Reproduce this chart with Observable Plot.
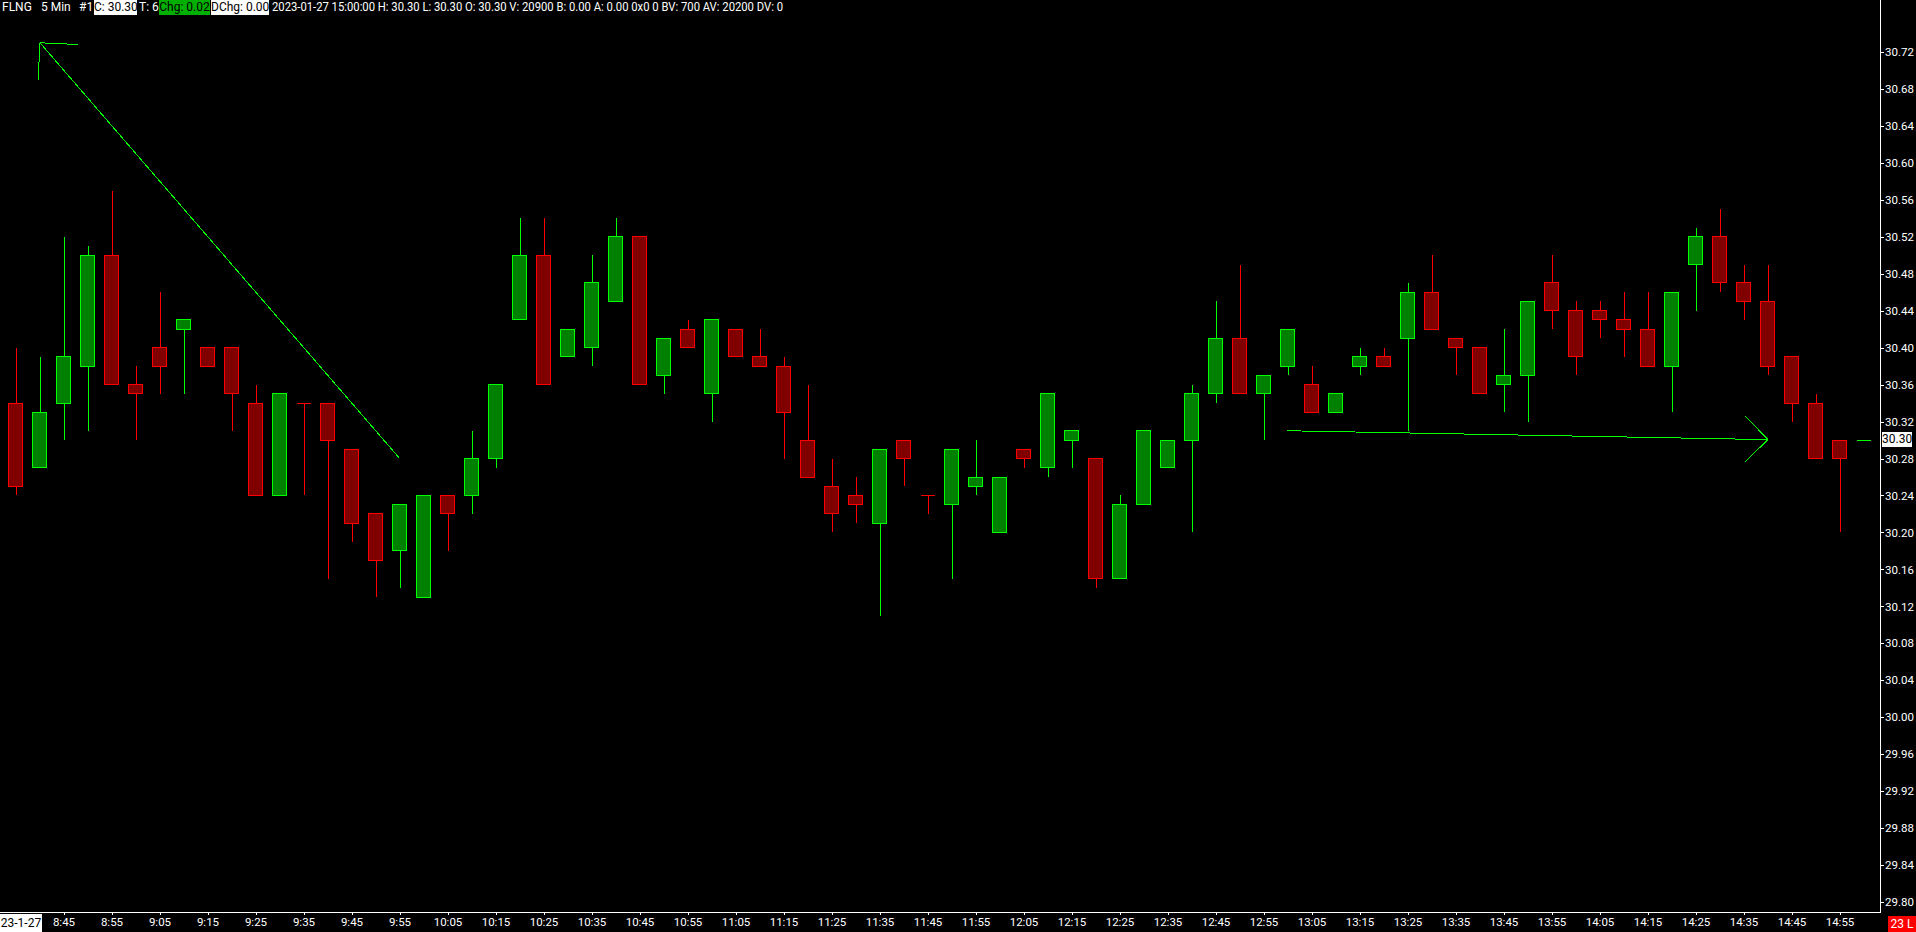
<!DOCTYPE html>
<html>
<head>
<meta charset="utf-8">
<script src="https://cdn.jsdelivr.net/npm/d3@7"></script>
<script src="https://cdn.jsdelivr.net/npm/@observablehq/plot@0.6"></script>
<style>
  html, body { margin: 0; padding: 0; background: #000; overflow: hidden; }
  #wrap { position: relative; width: 1916px; height: 932px; background: #000;
          font-family: Roboto, "Noto Sans", sans-serif; font-size: 12px; color: #fff; }
  #wrap svg { display: block; }
  .lbl { position: absolute; white-space: pre; line-height: 15px; height: 15px; top: 0; }
  .bw { background: #fff; color: #000; text-align: center; }
  .bg { background: #00b000; color: #000; text-align: center; }
  .br { background: #ff0000; color: #fff; text-align: center; }
</style>
</head>
<body>
<div id="wrap"></div>
<script>
// ---------- DATA ----------
const times = ["8:35","8:40","8:45","8:50","8:55","9:00","9:05","9:10","9:15","9:20",
  "9:25","9:30","9:35","9:40","9:45","9:50","9:55","10:00","10:05","10:10",
  "10:15","10:20","10:25","10:30","10:35","10:40","10:45","10:50","10:55","11:00",
  "11:05","11:10","11:15","11:20","11:25","11:30","11:35","11:40","11:45","11:50",
  "11:55","12:00","12:05","12:10","12:15","12:20","12:25","12:30","12:35","12:40",
  "12:45","12:50","12:55","13:00","13:05","13:10","13:15","13:20","13:25","13:30",
  "13:35","13:40","13:45","13:50","13:55","14:00","14:05","14:10","14:15","14:20",
  "14:25","14:30","14:35","14:40","14:45","14:50","14:55","15:00"];

const open = [30.34,30.27,30.34,30.38,30.50,30.36,30.40,30.42,30.40,30.40,
  30.34,30.24,30.34,30.34,30.29,30.22,30.18,30.13,30.24,30.24,
  30.28,30.43,30.50,30.39,30.40,30.45,30.52,30.37,30.42,30.35,
  30.42,30.39,30.38,30.30,30.25,30.24,30.21,30.30,30.24,30.23,
  30.25,30.20,30.29,30.27,30.30,30.28,30.15,30.23,30.27,30.30,
  30.35,30.41,30.35,30.38,30.36,30.33,30.38,30.39,30.41,30.46,
  30.41,30.40,30.36,30.37,30.47,30.44,30.44,30.43,30.42,30.38,
  30.49,30.52,30.47,30.45,30.39,30.34,30.30,30.30];

const high = [30.40,30.39,30.52,30.51,30.57,30.38,30.46,30.43,30.40,30.40,
  30.36,30.35,30.34,30.34,30.29,30.22,30.23,30.24,30.24,30.31,
  30.36,30.54,30.54,30.42,30.50,30.54,30.52,30.41,30.43,30.43,
  30.42,30.42,30.39,30.36,30.28,30.26,30.29,30.30,30.24,30.29,
  30.30,30.26,30.29,30.35,30.31,30.28,30.24,30.31,30.30,30.36,
  30.45,30.49,30.37,30.42,30.38,30.35,30.40,30.40,30.47,30.50,
  30.41,30.40,30.42,30.45,30.50,30.45,30.45,30.46,30.46,30.46,
  30.53,30.55,30.49,30.49,30.39,30.35,30.30,30.30];

const low = [30.24,30.27,30.30,30.31,30.36,30.30,30.35,30.35,30.38,30.31,
  30.24,30.24,30.24,30.15,30.19,30.13,30.14,30.13,30.18,30.22,
  30.27,30.43,30.36,30.39,30.38,30.45,30.36,30.35,30.40,30.32,
  30.39,30.38,30.28,30.26,30.20,30.21,30.11,30.25,30.22,30.15,
  30.24,30.20,30.27,30.26,30.27,30.14,30.15,30.23,30.27,30.20,
  30.34,30.35,30.30,30.37,30.33,30.33,30.37,30.38,30.31,30.42,
  30.37,30.35,30.33,30.32,30.42,30.37,30.41,30.39,30.38,30.33,
  30.44,30.46,30.43,30.37,30.32,30.28,30.20,30.30];

const close = [30.25,30.33,30.39,30.50,30.36,30.35,30.38,30.43,30.38,30.35,
  30.24,30.35,30.34,30.30,30.21,30.17,30.23,30.24,30.22,30.28,
  30.36,30.50,30.36,30.42,30.47,30.52,30.36,30.41,30.40,30.43,
  30.39,30.38,30.33,30.26,30.22,30.23,30.29,30.28,30.24,30.29,
  30.26,30.26,30.28,30.35,30.31,30.15,30.23,30.31,30.30,30.35,
  30.41,30.35,30.37,30.42,30.33,30.35,30.39,30.38,30.46,30.42,
  30.40,30.35,30.37,30.45,30.44,30.39,30.43,30.42,30.38,30.46,
  30.52,30.47,30.45,30.38,30.34,30.28,30.28,30.30];

const yTicks = [29.80,29.84,29.88,29.92,29.96,30.00,30.04,30.08,30.12,30.16,30.20,30.24,
  30.28,30.32,30.36,30.40,30.44,30.48,30.52,30.56,30.60,30.64,30.68,30.72];

const xTickLabels = ["8:45","8:55","9:05","9:15","9:25","9:35","9:45","9:55","10:05","10:15",
  "10:25","10:35","10:45","10:55","11:05","11:15","11:25","11:35","11:45","11:55",
  "12:05","12:15","12:25","12:35","12:45","12:55","13:05","13:15","13:25","13:35",
  "13:45","13:55","14:05","14:15","14:25","14:35","14:45","14:55"];

// drawn trendline annotations: [bar index, price]
const arrow1Shaft = [[1.0, 30.7305], [15.95, 30.2817]];
const arrow1Head  = [[0.92, 30.690], [1.0, 30.7305], [2.56, 30.7287]];
const arrow2Shaft = [[52.97, 30.3106], [73.0, 30.3010]];
const arrow2Head  = [[72.07, 30.326], [73.0, 30.3010], [72.04, 30.277]];

const headerFields = ["FLNG", "5 Min", "#1", "C: 30.30", "T: 6", "Chg: 0.02", "DChg: 0.00",
  "2023-01-27 15:00:00 H: 30.30 L: 30.30 O: 30.30 V: 20900 B: 0.00 A: 0.00 0x0 0 BV: 700 AV: 20200 DV: 0"];
const dateLabel = "23-1-27";
const lastPrice = 30.30;
const barCountLabel = "23 L";

// ---------- STYLE ----------
const UP_FILL = "#008000", UP_LINE = "#00ff00";
const DN_FILL = "#800000", DN_LINE = "#ff0000";
const HALF = 7 / 24; // half body width, in bar units

const candles = times.map((t, i) => {
  const o = open[i], c = close[i];
  const prev = i > 0 ? close[i - 1] : o;
  const up = c > o || (c === o && c >= prev);
  return {i, t, o, h: high[i], l: low[i], c, up};
});
const bodies = candles.filter(d => d.o !== d.c);
const dojis = candles.filter(d => d.o === d.c);
const xTickIdx = xTickLabels.map(s => times.indexOf(s));

const crisp = {shapeRendering: "crispEdges"};

const plot = Plot.plot({
  width: 1916, height: 932,
  marginLeft: 0, marginRight: 36.5, marginTop: 0, marginBottom: 20,
  style: {background: "#000", color: "#fff", fontFamily: "Roboto, 'Noto Sans', sans-serif", fontSize: "11.5px"},
  x: {domain: [0, 77], range: [15.5, 1863.5]},
  y: {domain: [29.80, 30.72], range: [902, 52]},
  marks: [
    Plot.frame({anchor: "right", stroke: "#fff", ...crisp}),
    Plot.frame({anchor: "bottom", stroke: "#fff", ...crisp}),
    Plot.axisY(yTicks, {anchor: "right", tickSize: 3, tickPadding: 2, tickFormat: d => d.toFixed(2),
      label: null, stroke: "#fff", fill: "#fff", fontSize: 11.5, ...crisp}),
    Plot.axisX(xTickIdx, {anchor: "bottom", tickSize: 3, tickPadding: 2, tickFormat: i => times[i],
      label: null, stroke: "#fff", fill: "#fff", fontSize: 11.5, ...crisp}),
    Plot.ruleX(candles.filter(d => d.up), {x: "i", y1: "l", y2: "h", stroke: UP_LINE, strokeWidth: 1, ...crisp}),
    Plot.ruleX(candles.filter(d => !d.up), {x: "i", y1: "l", y2: "h", stroke: DN_LINE, strokeWidth: 1, ...crisp}),
    Plot.rect(bodies.filter(d => d.up), {x1: d => d.i - HALF, x2: d => d.i + HALF,
      y1: d => Math.min(d.o, d.c), y2: d => Math.max(d.o, d.c), fill: UP_FILL, stroke: UP_LINE, strokeWidth: 1, ...crisp}),
    Plot.rect(bodies.filter(d => !d.up), {x1: d => d.i - HALF, x2: d => d.i + HALF,
      y1: d => Math.min(d.o, d.c), y2: d => Math.max(d.o, d.c), fill: DN_FILL, stroke: DN_LINE, strokeWidth: 1, ...crisp}),
    Plot.ruleY(dojis.filter(d => d.up), {x1: d => d.i - HALF, x2: d => d.i + HALF, y: "o", stroke: UP_LINE, strokeWidth: 1, ...crisp}),
    Plot.ruleY(dojis.filter(d => !d.up), {x1: d => d.i - HALF, x2: d => d.i + HALF, y: "o", stroke: DN_LINE, strokeWidth: 1, ...crisp}),
    Plot.line(arrow1Shaft, {x: d => d[0], y: d => d[1], stroke: UP_LINE, strokeWidth: 1, ...crisp}),
    Plot.line(arrow1Head, {x: d => d[0], y: d => d[1], stroke: UP_LINE, strokeWidth: 1, ...crisp}),
    Plot.line(arrow2Shaft, {x: d => d[0], y: d => d[1], stroke: UP_LINE, strokeWidth: 1, ...crisp}),
    Plot.line(arrow2Head, {x: d => d[0], y: d => d[1], stroke: UP_LINE, strokeWidth: 1, ...crisp})
  ]
});

const wrap = document.getElementById("wrap");
wrap.appendChild(plot);

// header overlay: each field placed at its column; fit = width the field must occupy
const hdrLayout = [
  {left: 2}, {left: 41}, {left: 79},
  {left: 94, width: 43, cls: "bw"}, {left: 139},
  {left: 159, width: 51, cls: "bg"}, {left: 211, width: 58, cls: "bw"},
  {left: 272, fit: 511}
];
headerFields.forEach((txt, k) => {
  const L = hdrLayout[k];
  const s = document.createElement("div");
  s.className = "lbl" + (L.cls ? " " + L.cls : "");
  s.style.left = L.left + "px";
  if (L.width) s.style.width = L.width + "px";
  s.textContent = txt;
  wrap.appendChild(s);
  if (L.fit) {
    const w = s.getBoundingClientRect().width;
    if (w > 0) { s.style.transformOrigin = "0 0"; s.style.transform = `scaleX(${L.fit / w})`; }
  }
});

// date label at bottom-left
const dl = document.createElement("div");
dl.className = "lbl bw";
dl.style.cssText += "left:0px;top:914px;width:42px;height:18px;line-height:18px;";
dl.textContent = dateLabel;
wrap.appendChild(dl);

// last price label on y axis
const yS = plot.scale("y");
const py = yS.apply(lastPrice);
const pl = document.createElement("div");
pl.className = "lbl bw";
pl.style.cssText += `left:1882px;top:${py - 8}px;width:30px;`;
pl.textContent = lastPrice.toFixed(2);
wrap.appendChild(pl);

// bar count box at bottom-right
const bc = document.createElement("div");
bc.className = "lbl br";
bc.style.cssText += "left:1888px;top:916px;width:28px;height:16px;line-height:16px;";
bc.textContent = barCountLabel;
wrap.appendChild(bc);
</script>
</body>
</html>
